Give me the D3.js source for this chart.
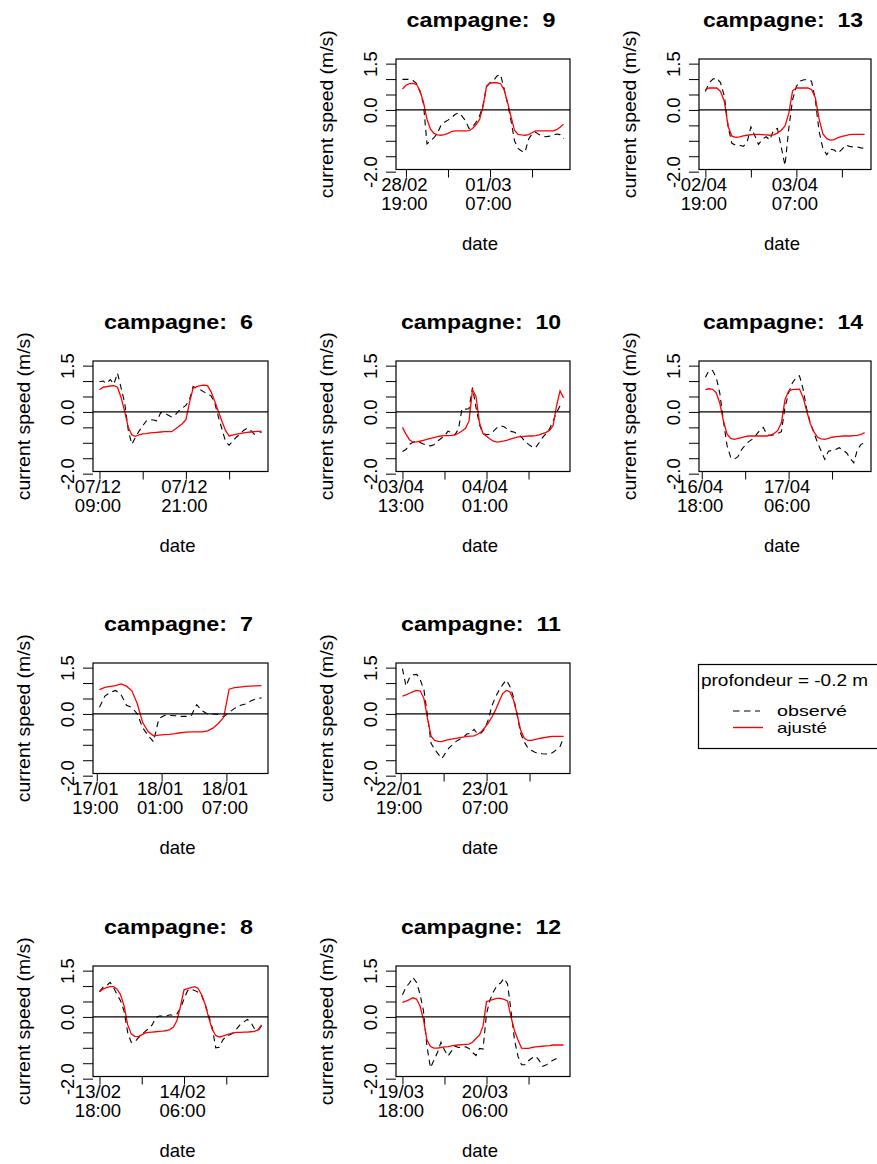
<!DOCTYPE html>
<html><head><meta charset="utf-8">
<script src="https://cdn.jsdelivr.net/npm/d3@7"></script>
<style>
body{margin:0;background:#fff}
svg{display:block}
text{font-family:"Liberation Sans",Arial,sans-serif;fill:#000}
</style>
</head><body>
<svg id="c" width="877" height="1164"></svg>
<script>
// ---------------- DATA (30-minute steps) ----------------
const STEP_MIN = 30;

const obs9 = [0.99,0.99,0.99,0.95,0.86,0.60,0.20,-1.10,-1.00,-0.90,-0.75,-0.50,-0.40,-0.33,-0.25,-0.15,-0.09,-0.20,-0.35,-0.60,-0.55,-0.40,-0.20,0.15,0.75,0.88,0.95,1.10,1.15,0.70,0.22,-0.35,-1.00,-1.25,-1.33,-1.37,-0.95,-0.78,-0.72,-0.80,-0.85,-0.87,-0.85,-0.82,-0.78,-0.80,-0.93];
const fit9 = [0.68,0.80,0.85,0.86,0.83,0.62,0.25,-0.30,-0.62,-0.76,-0.81,-0.82,-0.80,-0.76,-0.70,-0.68,-0.68,-0.68,-0.68,-0.67,-0.60,-0.48,-0.32,0.10,0.77,0.87,0.88,0.88,0.85,0.66,0.25,-0.22,-0.66,-0.79,-0.81,-0.82,-0.80,-0.74,-0.68,-0.68,-0.68,-0.68,-0.68,-0.68,-0.64,-0.56,-0.46];

const obs13 = [0.60,0.88,1.00,1.03,0.88,0.45,-0.54,-1.08,-1.14,-1.14,-1.18,-1.05,-0.55,-0.82,-1.12,-0.95,-0.87,-0.97,-0.65,-0.60,-1.20,-1.80,-0.60,0.33,0.76,0.94,0.98,0.98,0.93,0.33,-0.70,-1.25,-1.45,-1.27,-1.30,-1.40,-1.28,-1.14,-1.18,-1.20,-1.20,-1.23,-1.25];
const fit13 = [0.66,0.71,0.71,0.71,0.60,0.28,-0.54,-0.85,-0.89,-0.87,-0.84,-0.82,-0.80,-0.79,-0.79,-0.80,-0.81,-0.82,-0.81,-0.75,-0.66,-0.52,-0.11,0.62,0.71,0.71,0.71,0.71,0.66,0.40,-0.30,-0.78,-0.93,-0.98,-0.96,-0.90,-0.86,-0.83,-0.80,-0.79,-0.79,-0.79,-0.79];

const obs6 = [0.98,1.00,0.92,1.05,0.90,1.26,0.78,0.30,-0.60,-1.05,-0.82,-0.62,-0.45,-0.29,-0.25,-0.26,-0.29,-0.02,-0.05,-0.10,-0.16,-0.10,0.03,0.13,0.21,0.40,0.82,0.77,0.72,0.65,0.58,0.52,0.30,-0.15,-0.55,-0.95,-1.08,-0.95,-0.82,-0.72,-0.60,-0.53,-0.60,-0.72,-0.62,-0.67];
const fit6 = [0.72,0.80,0.82,0.84,0.85,0.80,0.47,0.02,-0.50,-0.75,-0.79,-0.74,-0.71,-0.70,-0.68,-0.67,-0.66,-0.65,-0.64,-0.64,-0.64,-0.56,-0.47,-0.38,-0.25,0.30,0.77,0.82,0.85,0.87,0.85,0.65,0.35,0.02,-0.30,-0.60,-0.78,-0.75,-0.72,-0.70,-0.68,-0.66,-0.65,-0.64,-0.63,-0.63];

const obs10 = [-1.28,-1.22,-1.05,-0.98,-0.95,-0.99,-1.04,-1.08,-1.10,-1.06,-0.95,-0.86,-0.78,-0.62,-0.67,-0.74,-0.55,0.10,0.09,0.10,0.79,0.15,-0.42,-0.70,-0.74,-0.72,-0.62,-0.51,-0.45,-0.48,-0.56,-0.63,-0.66,-0.73,-0.82,-0.95,-1.05,-1.13,-1.16,-1.00,-0.83,-0.70,-0.55,-0.30,-0.02,0.20,0.14];
const fit10 = [-0.50,-0.72,-0.90,-0.98,-0.97,-0.95,-0.92,-0.89,-0.86,-0.83,-0.80,-0.78,-0.77,-0.77,-0.76,-0.74,-0.69,-0.62,-0.53,-0.30,0.72,0.50,-0.35,-0.70,-0.79,-0.88,-0.95,-0.98,-0.96,-0.94,-0.91,-0.87,-0.84,-0.81,-0.80,-0.79,-0.78,-0.78,-0.77,-0.74,-0.70,-0.66,-0.60,-0.45,0.20,0.68,0.45];

const obs14 = [1.12,1.34,1.34,1.12,0.60,-0.30,-1.10,-1.47,-1.53,-1.45,-1.22,-1.08,-0.96,-0.88,-0.75,-0.60,-0.50,-0.74,-0.76,-0.74,-0.70,-0.64,0.15,0.62,0.93,1.10,1.17,0.74,0.09,-0.35,-0.68,-1.00,-1.27,-1.54,-1.27,-1.25,-1.22,-1.16,-1.24,-1.32,-1.50,-1.65,-1.22,-1.05,-1.00];
const fit14 = [0.72,0.75,0.73,0.62,0.28,-0.30,-0.72,-0.86,-0.89,-0.86,-0.83,-0.80,-0.78,-0.78,-0.78,-0.78,-0.78,-0.78,-0.75,-0.70,-0.60,-0.35,0.40,0.68,0.72,0.73,0.74,0.47,0.03,-0.38,-0.65,-0.82,-0.87,-0.89,-0.86,-0.82,-0.80,-0.79,-0.78,-0.78,-0.78,-0.77,-0.76,-0.73,-0.67];

const obs7 = [0.22,0.58,0.70,0.76,0.62,0.28,0.21,0.00,-0.45,-0.70,-0.90,-0.15,-0.05,-0.05,-0.06,-0.08,-0.08,-0.05,0.30,0.10,0.00,0.00,-0.02,-0.09,0.05,0.18,0.27,0.32,0.42,0.49,0.52];
const fit7 = [0.79,0.86,0.89,0.92,0.97,0.90,0.75,0.33,-0.28,-0.57,-0.71,-0.69,-0.67,-0.66,-0.64,-0.61,-0.59,-0.58,-0.58,-0.58,-0.55,-0.46,-0.31,-0.11,0.80,0.85,0.87,0.89,0.90,0.91,0.92];

const obs11 = [1.47,0.90,1.18,1.27,1.28,1.10,0.78,-0.05,-0.95,-1.15,-1.30,-1.45,-1.27,-1.10,-1.00,-0.89,-0.82,-0.76,-0.65,-0.63,-0.50,-0.65,-0.62,-0.49,-0.18,0.27,0.55,0.77,0.95,1.10,0.90,0.55,0.00,-0.63,-0.90,-1.10,-1.18,-1.24,-1.27,-1.29,-1.30,-1.30,-1.25,-1.16,-1.06,-0.78];
const fit11 = [0.58,0.62,0.67,0.72,0.76,0.74,0.50,-0.15,-0.72,-0.86,-0.89,-0.90,-0.86,-0.83,-0.81,-0.79,-0.77,-0.75,-0.73,-0.72,-0.71,-0.66,-0.58,-0.44,-0.29,-0.10,0.13,0.40,0.66,0.76,0.72,0.46,0.00,-0.52,-0.78,-0.86,-0.86,-0.83,-0.80,-0.78,-0.76,-0.74,-0.73,-0.73,-0.73,-0.73];

const obs8 = [0.82,0.96,1.01,1.12,0.95,0.72,0.52,0.18,-0.50,-0.82,-0.82,-0.68,-0.57,-0.47,-0.37,-0.25,-0.02,0.03,0.03,0.03,0.07,0.05,0.10,0.28,0.58,0.85,0.90,0.86,0.80,0.69,0.40,0.05,-0.35,-1.00,-0.98,-0.75,-0.62,-0.58,-0.52,-0.38,-0.24,-0.16,-0.08,-0.18,-0.38,-0.45,-0.29];
const fit8 = [0.82,0.90,0.95,0.98,0.98,0.90,0.72,0.35,-0.25,-0.55,-0.63,-0.64,-0.58,-0.52,-0.50,-0.49,-0.48,-0.47,-0.46,-0.44,-0.41,-0.33,-0.12,0.35,0.88,0.92,0.95,0.98,0.92,0.72,0.41,-0.02,-0.40,-0.60,-0.65,-0.62,-0.58,-0.55,-0.52,-0.50,-0.50,-0.49,-0.49,-0.48,-0.47,-0.42,-0.26];

const obs12 = [0.72,0.96,1.10,1.28,1.12,0.75,0.20,-0.95,-1.65,-1.40,-1.15,-0.82,-1.07,-1.27,-1.11,-0.95,-0.99,-0.97,-0.97,-1.02,-1.15,-1.25,-1.02,-1.04,0.10,0.55,0.82,1.02,1.10,1.25,1.07,0.20,-0.75,-1.28,-1.55,-1.55,-1.42,-1.33,-1.27,-1.40,-1.60,-1.56,-1.48,-1.40,-1.35];
const fit12 = [0.47,0.51,0.56,0.62,0.58,0.36,-0.08,-0.75,-0.96,-1.01,-1.01,-0.99,-0.97,-0.96,-0.94,-0.92,-0.91,-0.90,-0.89,-0.88,-0.82,-0.70,-0.59,-0.30,0.49,0.54,0.57,0.60,0.60,0.57,0.52,0.00,-0.45,-0.75,-1.01,-1.02,-1.02,-0.99,-0.97,-0.96,-0.95,-0.94,-0.93,-0.91,-0.91,-0.91,-0.91];

// campaign ids, series start times and x tick times / labels
const campaigns = ["9","13","6","10","14","7","11","8","12"];
const startTimes = ["2007-02-28 18:30","2007-04-02 19:00","2006-12-07 09:00","2007-04-03 13:00","2007-04-16 18:30","2007-01-17 19:15","2007-01-22 19:15","2007-02-13 18:00","2007-03-19 18:00"];
const tickTimes = [
  ["2007-02-28 19:00","2007-03-01 01:00","2007-03-01 07:00","2007-03-01 13:00"],
  ["2007-04-02 19:00","2007-04-03 01:00","2007-04-03 07:00","2007-04-03 13:00"],
  ["2006-12-07 09:00","2006-12-07 15:00","2006-12-07 21:00","2006-12-08 03:00"],
  ["2007-04-03 13:00","2007-04-03 19:00","2007-04-04 01:00","2007-04-04 07:00"],
  ["2007-04-16 18:00","2007-04-17 00:00","2007-04-17 06:00","2007-04-17 12:00"],
  ["2007-01-17 19:00","2007-01-18 01:00","2007-01-18 07:00"],
  ["2007-01-22 19:00","2007-01-23 01:00","2007-01-23 07:00","2007-01-23 13:00"],
  ["2007-02-13 18:00","2007-02-14 00:00","2007-02-14 06:00","2007-02-14 12:00"],
  ["2007-03-19 18:00","2007-03-20 00:00","2007-03-20 06:00","2007-03-20 12:00"]
];
const tickLabels = [
  ["28/02\n19:00","","01/03\n07:00",""],
  ["02/04\n19:00","","03/04\n07:00",""],
  ["07/12\n09:00","","07/12\n21:00",""],
  ["03/04\n13:00","","04/04\n01:00",""],
  ["16/04\n18:00","","17/04\n06:00",""],
  ["17/01\n19:00","18/01\n01:00","18/01\n07:00"],
  ["22/01\n19:00","","23/01\n07:00",""],
  ["13/02\n18:00","","14/02\n06:00",""],
  ["19/03\n18:00","","20/03\n06:00",""]
];
const observed = [obs9,obs13,obs6,obs10,obs14,obs7,obs11,obs8,obs12];
const fitted = [fit9,fit13,fit6,fit10,fit14,fit7,fit11,fit8,fit12];

const yTickValues = [-2,-1.5,-1,-0.5,0,0.5,1,1.5];
const yTickLabelValues = [1.5,0,-2];
const legendTitle = "profondeur = -0.2 m";
const legendNames = ["observé","ajusté"];

// ---------------- LAYOUT ----------------
const cells = [[0,1],[0,2],[1,0],[1,1],[1,2],[2,0],[2,1],[3,0],[3,1]]; // [row,col]
const colBox = [[93,268],[396,570],[699,871]];
const rowTop = [59,361,663,966];
const boxH = 110.5;
const yDomain = [-1.93,1.65];
const FS = 18.5;

const parse = d3.timeParse("%Y-%m-%d %H:%M");
const svg = d3.select("#c");

campaigns.forEach((id,k)=>{
  const [row,col] = cells[k];
  const [L,R] = colBox[col];
  const T = rowTop[row], B = T + boxH;
  const t0 = parse(startTimes[k]);
  const obsPts = observed[k].map((v,i)=>({t:d3.timeMinute.offset(t0,i*STEP_MIN),v}));
  const fitPts = fitted[k].map((v,i)=>({t:d3.timeMinute.offset(t0,i*STEP_MIN),v}));
  const ext = d3.extent(obsPts.concat(fitPts), d=>d.t);
  const pad = (ext[1]-ext[0])*0.04;
  const x = d3.scaleTime().domain([new Date(+ext[0]-pad), new Date(+ext[1]+pad)]).range([L,R]);
  const y = d3.scaleLinear().domain(yDomain).range([B,T]);
  const g = svg.append("g");

  // y axis
  const ya = g.append("g").attr("transform",`translate(${L},0)`)
    .call(d3.axisLeft(y).tickValues(yTickValues).tickSize(10).tickSizeOuter(0)
      .tickFormat(d=> yTickLabelValues.includes(d) ? d.toFixed(1) : ""));
  ya.select(".domain").remove();
  ya.selectAll(".tick line").attr("stroke","#000");
  ya.selectAll(".tick text")
    .attr("x",null).attr("dy",null).attr("y",null)
    .attr("text-anchor","middle")
    .attr("transform","translate(-19,0) rotate(-90)")
    .style("font-size",FS+"px").style("font-family",'"Liberation Sans",Arial,sans-serif').attr("fill","#000");

  // x axis
  const xa = g.append("g").attr("transform",`translate(0,${B})`)
    .call(d3.axisBottom(x).tickValues(tickTimes[k].map(parse)).tickSize(8).tickSizeOuter(0).tickFormat(()=>""));
  xa.select(".domain").remove();
  xa.selectAll(".tick line").attr("stroke","#000");
  xa.selectAll(".tick text").each(function(d,i){
    const t = d3.select(this).text(null).attr("y",null).attr("dy",null)
      .attr("text-anchor","middle")
      .style("font-size",FS+"px").style("font-family",'"Liberation Sans",Arial,sans-serif').attr("fill","#000");
    const lab = tickLabels[k][i];
    if(!lab) return;
    lab.split("\n").forEach((ln,j)=>{
      t.append("tspan").attr("x",-2).attr("y",21.5+18.5*j).text(ln);
    });
  });

  // series
  const line = d3.line().x(d=>x(d.t)).y(d=>y(d.v));
  g.append("path").datum(obsPts).attr("d",line)
    .attr("fill","none").attr("stroke","#000").attr("stroke-width",1.1).attr("stroke-dasharray","6,4.5");
  g.append("path").datum(fitPts).attr("d",line)
    .attr("fill","none").attr("stroke","#ff0000").attr("stroke-width",1.3);

  // zero line
  g.append("line").attr("x1",L).attr("x2",R).attr("y1",y(0)).attr("y2",y(0))
    .attr("stroke","#000").attr("stroke-width",1.2);

  // box
  g.append("rect").attr("x",L).attr("y",T).attr("width",R-L).attr("height",boxH)
    .attr("fill","none").attr("stroke","#000").attr("stroke-width",1.2);

  // title
  g.append("text").attr("x",(L+R)/2-2).attr("y",T-32.5)
    .attr("text-anchor","middle").style("font-weight","bold").style("font-size","20px")
    .style("white-space","pre")
    .attr("textLength", id.length>1 ? 160 : 149).attr("lengthAdjust","spacingAndGlyphs")
    .text("campagne:  "+id);

  // y label
  g.append("text").attr("transform",`translate(${L-63},${(T+B)/2}) rotate(-90)`)
    .attr("text-anchor","middle").style("font-size",FS+"px")
    .attr("textLength",168).attr("lengthAdjust","spacingAndGlyphs")
    .text("current speed (m/s)");

  // x label
  g.append("text").attr("x",(L+R)/2-3).attr("y",B+80)
    .attr("text-anchor","middle").style("font-size",FS+"px").text("date");
});

// legend
const lg = svg.append("g");
lg.append("rect").attr("x",698.5).attr("y",664.5).attr("width",200).attr("height",84)
  .attr("fill","#fff").attr("stroke","#000").attr("stroke-width",1.2);
lg.append("text").attr("x",701).attr("y",686).style("font-size","16px")
  .attr("textLength",167).attr("lengthAdjust","spacingAndGlyphs").text(legendTitle);
lg.append("line").attr("x1",733).attr("x2",760).attr("y1",711).attr("y2",711)
  .attr("stroke","#000").attr("stroke-width",1.2).attr("stroke-dasharray","6.5,4.5");
lg.append("line").attr("x1",733).attr("x2",763).attr("y1",727.5).attr("y2",727.5)
  .attr("stroke","#ff0000").attr("stroke-width",1.4);
lg.append("text").attr("x",777).attr("y",716).style("font-size","15px")
  .attr("textLength",70).attr("lengthAdjust","spacingAndGlyphs").text(legendNames[0]);
lg.append("text").attr("x",777).attr("y",732.5).style("font-size","15px")
  .attr("textLength",50).attr("lengthAdjust","spacingAndGlyphs").text(legendNames[1]);
</script>
</body></html>
